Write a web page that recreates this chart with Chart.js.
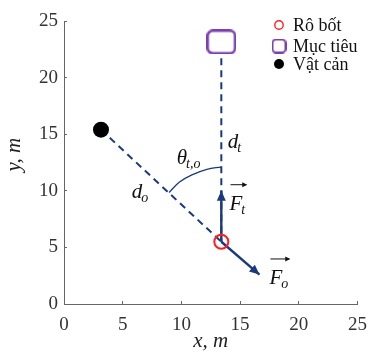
<!DOCTYPE html>
<html>
<head>
<meta charset="utf-8">
<script src="https://cdn.jsdelivr.net/npm/chart.js@4.4.0/dist/chart.umd.min.js"></script>
<style>
  html, body { margin: 0; padding: 0; background: #fff; overflow: hidden; }
  #wrap { width: 369px; height: 352px; }
</style>
</head>
<body>
<div id="wrap"><canvas id="myChart"></canvas></div>
<script>
// positions in metres
var robot = [13.4, 5.5];
var target = [13.4, 23.15];
var obstacle = [3.15, 15.4];
var targetLine = [[13.4, 21.7], [13.4, 5.5]];
var obstacleLine = [[3.15, 15.4], [13.4, 5.5]];
var forceT = [[13.4, 5.5], [13.4, 10.0]];
var forceO = [[13.4, 5.5], [16.65, 2.6]];
var angleArc = [[8.95, 9.85], [9.84, 10.77], [10.95, 11.43], [12.17, 11.9], [13.4, 12.1]];

var legendLabels = ['Rô bốt', 'Mục tiêu', 'Vật cản'];

// text notes: main letter, subscript, anchor (left, baseline), vector arrow on top
var noteText = ['d', 'θ', 'd', 'F', 'F'];
var noteSub = ['t', 't,o', 'o', 't', 'o'];
var noteX = [13.95, 9.6, 5.78, 14.1, 17.5];
var noteY = [13.74, 12.41, 9.4, 8.33, 1.77];
var noteVec = [false, false, false, true, true];

var navy = '#1b3a7e';
var purple = '#7e3fae';
var red = '#ff1e1e';
var serif = 'Liberation Serif';

function roundedBox(w, h, r, color, lw) {
    var c = document.createElement('canvas');
    c.width = w;
    c.height = h;
    var g = c.getContext('2d');
    g.strokeStyle = color;
    g.lineWidth = lw;
    g.beginPath();
    g.roundRect(lw / 2, lw / 2, w - lw, h - lw, r);
    g.stroke();
    return c;
}

var targetBox = roundedBox(30, 25, 5, purple, 2.6);
var legendBox = roundedBox(15, 15, 3.5, purple, 2);

function toXY(list) {
    return list.map(p => ({ x: p[0], y: p[1] }));
}

function lineSet(points, width, dash, order) {
    return {
        data: toXY(points),
        showLine: true,
        borderColor: navy,
        backgroundColor: navy,
        borderWidth: width,
        borderDash: dash,
        pointRadius: 0,
        order: order
    };
}

// arrow heads at the end of the force lines, plus the text notes and legend
var extrasPlugin = {
    id: 'extras',
    afterDatasetsDraw: function(chart) {
        var ctx = chart.ctx;
        var xs = chart.scales.x, ys = chart.scales.y;

        chart.data.datasets.forEach(function(ds, i) {
            if (!ds.arrow) return;
            var pts = chart.getDatasetMeta(i).data;
            var a = pts[pts.length - 2], b = pts[pts.length - 1];
            var ang = Math.atan2(b.y - a.y, b.x - a.x);
            var len = 10, half = 4.5;
            ctx.save();
            ctx.fillStyle = navy;
            ctx.beginPath();
            ctx.moveTo(b.x, b.y);
            ctx.lineTo(b.x - len * Math.cos(ang) + half * Math.sin(ang), b.y - len * Math.sin(ang) - half * Math.cos(ang));
            ctx.lineTo(b.x - len * Math.cos(ang) - half * Math.sin(ang), b.y - len * Math.sin(ang) + half * Math.cos(ang));
            ctx.closePath();
            ctx.fill();
            ctx.restore();
        });

        ctx.save();
        ctx.fillStyle = '#111';
        ctx.textBaseline = 'alphabetic';
        ctx.textAlign = 'left';
        for (var i = 0; i < noteText.length; i++) {
            var px = xs.getPixelForValue(noteX[i]);
            var py = ys.getPixelForValue(noteY[i]);
            ctx.font = 'italic 21px ' + serif;
            ctx.fillText(noteText[i], px, py);
            var w = ctx.measureText(noteText[i]).width;
            ctx.font = 'italic 14px ' + serif;
            ctx.fillText(noteSub[i], px + w - 1, py + 4);
            var sw = ctx.measureText(noteSub[i]).width;
            if (noteVec[i]) {
                var ay = py - 25, x0 = px + 1, x1 = px + w + sw;
                ctx.strokeStyle = '#111';
                ctx.lineWidth = 1;
                ctx.beginPath();
                ctx.moveTo(x0, ay);
                ctx.lineTo(x1, ay);
                ctx.stroke();
                ctx.beginPath();
                ctx.moveTo(x1 + 1, ay);
                ctx.lineTo(x1 - 4, ay - 2.5);
                ctx.lineTo(x1 - 4, ay + 2.5);
                ctx.closePath();
                ctx.fill();
            }
        }
        ctx.restore();

        // legend
        var lx = 279, ly = [25, 46, 64], tx = 293;
        ctx.save();
        ctx.strokeStyle = red;
        ctx.lineWidth = 1.4;
        ctx.beginPath();
        ctx.arc(lx, ly[0], 4.2, 0, Math.PI * 2);
        ctx.stroke();
        ctx.drawImage(legendBox, lx - 7.5, ly[1] - 7.5);
        ctx.fillStyle = '#000';
        ctx.beginPath();
        ctx.arc(lx, ly[2], 5, 0, Math.PI * 2);
        ctx.fill();
        ctx.font = '18px ' + serif;
        ctx.textBaseline = 'middle';
        ctx.fillStyle = '#111';
        legendLabels.forEach(function(t, k) {
            ctx.fillText(t, tx, ly[k] + 1);
        });
        ctx.restore();
    }
};

var ctx = document.getElementById('myChart').getContext('2d');
var myChart = new Chart(ctx, {
    type: 'scatter',
    data: {
        datasets: [
            {
                data: toXY([robot]),
                pointStyle: 'circle',
                pointRadius: 7,
                borderColor: red,
                borderWidth: 2,
                backgroundColor: 'rgba(0,0,0,0)',
                order: 1
            },
            {
                data: toXY([target]),
                pointStyle: targetBox,
                order: 1
            },
            {
                data: toXY([obstacle]),
                pointStyle: 'circle',
                pointRadius: 8,
                borderWidth: 0,
                backgroundColor: '#000',
                order: 1
            },
            lineSet(targetLine, 2, [7, 5], 5),
            lineSet(obstacleLine, 2, [7, 5], 5),
            Object.assign(lineSet(angleArc, 1.3, [], 4), { tension: 0.4 }),
            Object.assign(lineSet(forceT, 2.4, [], 3), { arrow: true }),
            Object.assign(lineSet(forceO, 2.4, [], 3), { arrow: true })
        ]
    },
    options: {
        responsive: true,
        maintainAspectRatio: false,
        animation: false,
        layout: { padding: { top: 21, right: 0, left: 0, bottom: 0 } },
        plugins: {
            legend: { display: false },
            tooltip: { enabled: false }
        },
        scales: {
            x: {
                type: 'linear',
                min: 0,
                max: 25,
                afterFit: function(s) { s.height = 48; },
                grid: { display: true, drawOnChartArea: false, tickLength: -3, color: '#666' },
                border: { display: true, color: '#666', width: 1 },
                // small padding keeps the right margin tight; lineHeight pushes labels down
                ticks: { stepSize: 5, padding: 2, color: '#333', font: { family: serif, size: 19, lineHeight: 2.3 } },
                title: { display: true, text: 'x, m', color: '#222', padding: { top: 0, bottom: 0 }, font: { family: serif, size: 21, style: 'italic', lineHeight: 1 } }
            },
            y: {
                type: 'linear',
                min: 0,
                max: 25,
                afterFit: function(s) { s.width = 64; },
                grid: { display: true, drawOnChartArea: false, tickLength: -3, color: '#666' },
                border: { display: true, color: '#666', width: 1 },
                ticks: { stepSize: 5, padding: 9, color: '#333', font: { family: serif, size: 19 } },
                title: { display: true, text: '   y, m', color: '#222', padding: { top: 2, bottom: 0 }, font: { family: serif, size: 21, style: 'italic' } }
            }
        }
    },
    plugins: [extrasPlugin]
});
</script>
</body>
</html>
